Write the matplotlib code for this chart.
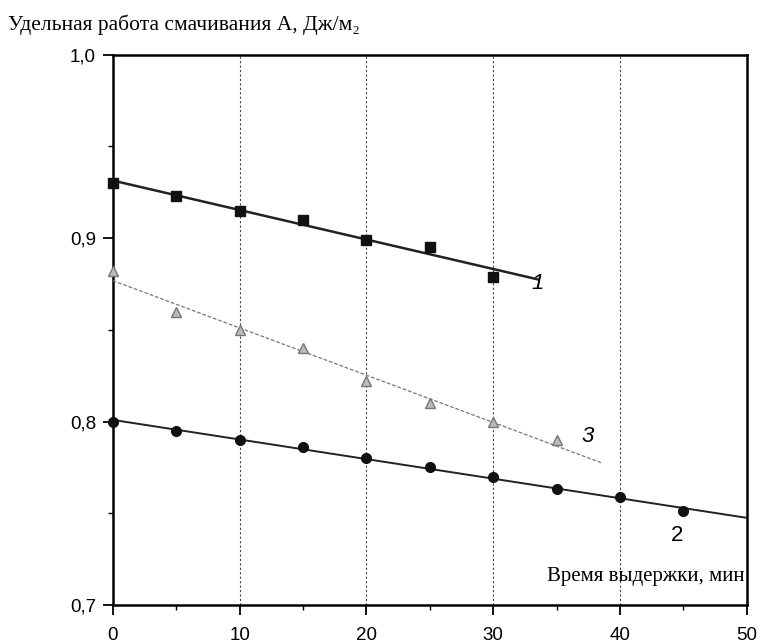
import numpy as np
import matplotlib.pyplot as plt
from matplotlib.ticker import MultipleLocator, FuncFormatter

# curve 1 - squares
x1 = [0, 5, 10, 15, 20, 25, 30]
y1 = [0.930, 0.923, 0.915, 0.910, 0.899, 0.895, 0.879]
x1_fit = [0, 33.5]

# curve 3 - triangles
x3 = [0, 5, 10, 15, 20, 25, 30, 35]
y3 = [0.882, 0.860, 0.850, 0.840, 0.822, 0.810, 0.800, 0.790]
x3_fit = [0, 38.5]

# curve 2 - circles
x2 = [0, 5, 10, 15, 20, 25, 30, 35, 40, 45]
y2 = [0.800, 0.795, 0.790, 0.786, 0.780, 0.775, 0.770, 0.763, 0.759, 0.751]
x2_fit = [0, 50]

serif = ['Liberation Serif', 'DejaVu Serif']
plt.rcParams['font.family'] = ['Liberation Sans', 'DejaVu Sans']

fig = plt.figure(figsize=(7.62, 6.43), dpi=100)
ax = fig.add_axes([0.148, 0.059, 0.832, 0.856])

def fit_line(x, y, xr):
    k, b = np.polyfit(x, y, 1)
    xr = np.array(xr)
    return xr, k * xr + b

xf, yf = fit_line(x1, y1, x1_fit)
ax.plot(xf, yf, color='#222222', lw=1.8, zorder=3)
ax.plot(x1, y1, 's', color='#111111', ms=7, zorder=4, clip_on=False)

xf, yf = fit_line(x3, y3, x3_fit)
ax.plot(xf, yf, color='#777777', lw=0.9, ls=(0, (3, 1.5)), zorder=3)
ax.plot(x3, y3, '^', mfc='#bbbbbb', mec='#777777', ms=7, zorder=4, clip_on=False)

xf, yf = fit_line(x2, y2, x2_fit)
ax.plot(xf, yf, color='#222222', lw=1.4, zorder=3)
ax.plot(x2, y2, 'o', color='#111111', ms=7, zorder=4, clip_on=False)

ax.text(33.0, 0.872, '1', fontsize=16, style='italic')
ax.text(37.0, 0.789, '3', fontsize=16, style='italic')
ax.text(44.0, 0.735, '2', fontsize=16)

ax.set_xlim(0, 50)
ax.set_ylim(0.7, 1.0)
ax.xaxis.set_major_locator(MultipleLocator(10))
ax.xaxis.set_minor_locator(MultipleLocator(5))
ax.yaxis.set_major_locator(MultipleLocator(0.1))
ax.yaxis.set_minor_locator(MultipleLocator(0.05))
ax.yaxis.set_major_formatter(FuncFormatter(lambda v, p: f'{v:.1f}'.replace('.', ',')))
ax.tick_params(which='major', length=7, width=1.3, labelsize=13.5, pad=5)
ax.tick_params(axis='x', which='major', pad=9)
ax.tick_params(which='minor', length=3.5, width=1)
for s in ax.spines.values():
    s.set_linewidth(1.8)

ax.grid(axis='x', which='major', ls=(0, (2, 2)), color='#444444', lw=0.8)

ax.text(0.997, 0.035, 'Время выдержки, мин', transform=ax.transAxes,
        ha='right', va='bottom', fontsize=15, family=serif)
fig.text(0.01, 0.945, 'Удельная работа смачивания А, Дж/м\u2082',
         ha='left', va='bottom', fontsize=15.5, family=serif)

fig.savefig('out.png', dpi=100)
